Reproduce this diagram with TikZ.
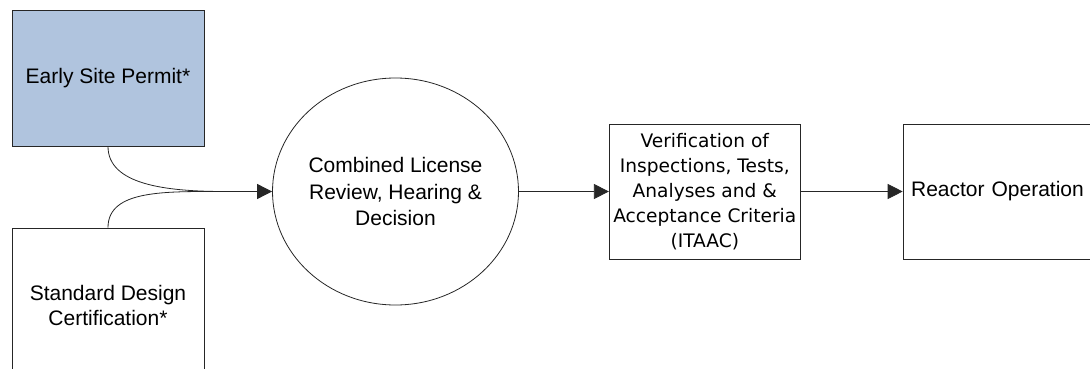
\documentclass[tikz,border=0pt]{standalone}
\usepackage{fontspec}
\setmainfont{Liberation Sans}
\newfontfamily\itaacfont{DejaVu Sans}
\usepackage{xcolor}
\usepackage{tikz}
\usetikzlibrary{arrows.meta, positioning, shapes.geometric}

\definecolor{permitblue}{RGB}{176,196,222}

\begin{document}
\begin{tikzpicture}[
    x=1pt, y=1pt,
    stage/.style={draw=black!85, line width=0.8pt, rectangle, minimum height=135pt, minimum width=192pt, inner sep=2pt, align=center, font=\fontsize{21}{25}\selectfont},
    hearing/.style={draw=black!85, line width=0.8pt, ellipse, minimum width=241pt, minimum height=227pt, inner sep=0pt, align=center, font=\fontsize{21}{26.5}\selectfont},
    line/.style={draw=black!85, line width=0.8pt, -{Triangle[length=15pt, width=15pt]}},
    link/.style={draw=black!85, line width=0.8pt}
]
    \useasboundingbox (0,0) rectangle (1090,-369);
    \clip (0,0) rectangle (1090,-369);

    \node[stage, fill=permitblue, minimum height=136pt] (esp) at (108,-78) {Early Site Permit*};
    \node[stage, minimum height=154pt] (sdc) at (108,-305) {Standard Design\\Certification*};
    \node[hearing] (lic) at (395.5,-191.5) {Combined License\\Review, Hearing \&\\Decision};
    \node[stage, right=90pt of lic, minimum width=191pt, font=\itaacfont\fontsize{18.6}{25}\selectfont] (itaac) {Verification of\\Inspections, Tests,\\Analyses and \&\\Acceptance Criteria\\(ITAAC)};
    \node[stage, right=102pt of itaac, text width=184pt, inner sep=8pt, align=left] (reactor) {Reactor Operation};

    % both permits merge before the hearing
    \coordinate (join) at (225,-191.5);
    \draw[link] (esp.south) .. controls +(0,-38) and +(-60,0) .. (join);
    \draw[link] (sdc.north) .. controls +(0,38) and +(-60,0) .. (join);
    \draw[line] (join) -- (lic.west);

    \draw[line] (lic) -- (itaac);
    \draw[line] (itaac) -- (reactor);
\end{tikzpicture}
\end{document}
